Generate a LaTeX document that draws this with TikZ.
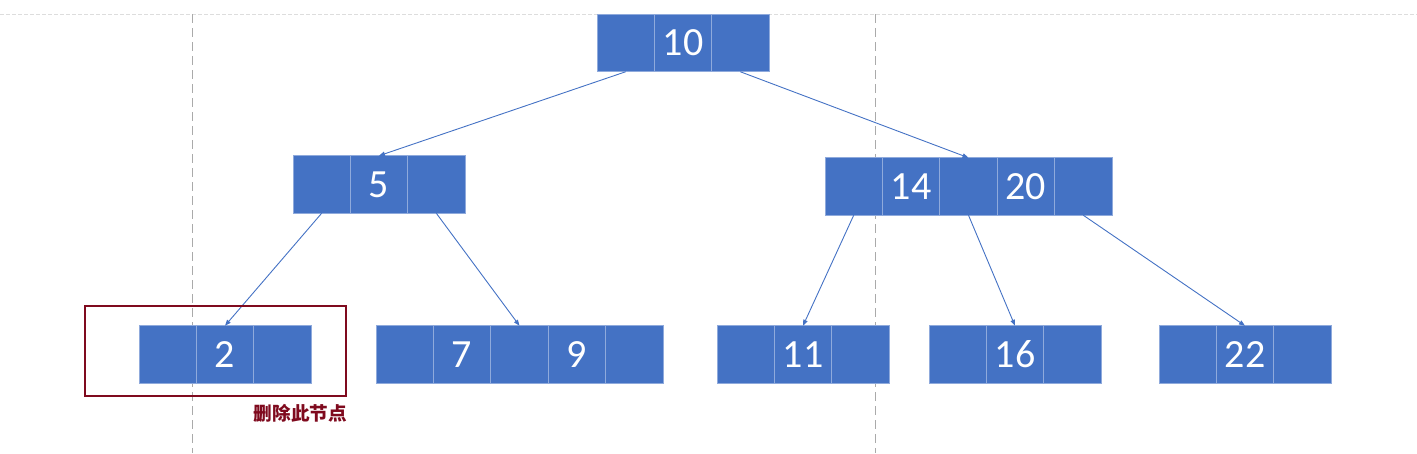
\documentclass[tikz,border=0pt]{standalone}
\usepackage{fontspec}
\setmainfont{Carlito}
\newfontfamily\cjk{Noto Sans CJK SC}
\usetikzlibrary{arrows.meta}
\definecolor{boxfill}{HTML}{4472C4}
\definecolor{boxline}{HTML}{8FAADC}
\definecolor{darkred}{HTML}{7F0A1E}
\definecolor{guide}{HTML}{AAAAAA}
\definecolor{topguide}{HTML}{DDDDDD}
\tikzset{
  cell/.style={draw=boxline, fill=boxfill, line width=0.8pt, minimum width=57.4pt,
    minimum height=57.5pt, inner sep=0pt, outer sep=0pt, text=white,
    font=\fontsize{40}{40}\selectfont},
  link/.style={draw=boxfill, line width=0.9pt, -{Triangle[length=6pt,width=4.5pt]}},
  guideline/.style={draw=guide, line width=0.9pt, dash pattern=on 9pt off 5pt},
  delbox/.style={draw=darkred, line width=2pt},
  dellabel/.style={text=darkred, font=\cjk\bfseries\fontsize{18.6}{18.6}\selectfont, inner sep=0pt}
}
\begin{document}
\begin{tikzpicture}[x=1pt,y=-1pt]
\useasboundingbox (0,0) rectangle (1417,453);
% guide lines
\draw[draw=topguide, line width=0.8pt, dash pattern=on 4pt off 2pt] (0,14) -- (1417,14);
\draw[guideline] (192,14) -- (192,453);
\draw[guideline] (875,14) -- (875,453);
% root 10
\foreach \i/\t in {1/,2/10,3/} \node[cell] (a\i) at ({597+57.33*\i-28.67},43) {\t};
% 5
\foreach \i/\t in {1/,2/5,3/} \node[cell] (b\i) at ({293+57.33*\i-28.67},184.5) {\t};
% 14 20
\foreach \i/\t in {1/,2/14,3/,4/20,5/} \node[cell] (c\i) at ({825+57.4*\i-28.7},186.5) {\t};
% 2
\foreach \i/\t in {1/,2/2,3/} \node[cell] (d\i) at ({139+57.33*\i-28.67},354.5) {\t};
% 7 9
\foreach \i/\t in {1/,2/7,3/,4/9,5/} \node[cell] (e\i) at ({376+57.4*\i-28.7},354.5) {\t};
% 11
\foreach \i/\t in {1/,2/11,3/} \node[cell] (f\i) at ({717+57.33*\i-28.67},354.5) {\t};
% 16
\foreach \i/\t in {1/,2/16,3/} \node[cell] (g\i) at ({929+57.33*\i-28.67},354.5) {\t};
% 22
\foreach \i/\t in {1/,2/22,3/} \node[cell] (h\i) at ({1159+57.33*\i-28.67},354.5) {\t};
% links
\draw[link] (a1.south) -- (b2.north);
\draw[link] (a3.south) -- (c3.north);
\draw[link] (b1.south) -- (d2.north);
\draw[link] (b3.south) -- (e3.north);
\draw[link] (c1.south) -- (f2.north);
\draw[link] (c3.south) -- (g2.north);
\draw[link] (c5.south) -- (h2.north);
% deletion mark
\node[delbox, minimum width=261pt, minimum height=90pt, inner sep=0pt] (del) at (215.5,351) {};
\node[dellabel, anchor=east] (dlabel) at (347,413.5) {删除此节点};
\end{tikzpicture}
\end{document}
